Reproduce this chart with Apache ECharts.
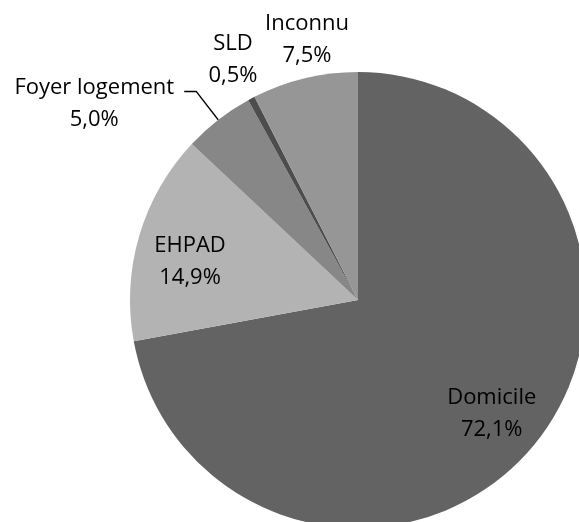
<!DOCTYPE html>
<html>
<head>
<meta charset="utf-8">
<script src="https://cdn.jsdelivr.net/npm/echarts@6/dist/echarts.min.js"></script>
<style>
  html, body { margin: 0; padding: 0; background: #fff; }
  #main { width: 579px; height: 522px; }
</style>
</head>
<body>
<div id="main"></div>
<script>
// 数据
var categories = ['Domicile', 'EHPAD', 'Foyer logement', 'SLD', 'Inconnu'];
var shares = [72.1, 14.9, 5.0, 0.5, 7.5];
var sliceColors = ['#636363', '#b3b3b3', '#878787', '#4d4d4d', '#969696'];

(function () {
  var chartDom = document.getElementById('main');
  var myChart = echarts.init(chartDom);
  var cx = 358, cy = 300, R = 228;
  // 标签: 沿扇区中心角方向的半径倍数, null = 引导线标签
  var labelRadius = [0.77, 0.755, null, 1.187, 1.162];
  var labelShift = [0.6, -3.7, 0, 0.4, 2.4];

  var total = 0;
  shares.forEach(function (v) { total += v; });
  var mids = [];
  var acc = 0;
  for (var i = 0; i < shares.length; i++) {
    mids.push((acc + shares[i] / 2) / total * 360);
    acc += shares[i];
  }
  function polar(a, r) {
    var rad = a * Math.PI / 180;
    return [cx + r * Math.sin(rad), cy - r * Math.cos(rad)];
  }

  var data = categories.map(function (name, i) {
    return {
      name: name,
      value: shares[i],
      itemStyle: { color: sliceColors[i] },
      labelLine: { show: labelRadius[i] == null }
    };
  });

  var option = {
    animation: false,
    series: [
      {
        type: 'pie',
        center: [cx, cy],
        radius: R,
        startAngle: 90,
        clockwise: true,
        avoidLabelOverlap: false,
        silent: true,
        data: data,
        label: {
          show: true,
          position: 'outside',
          color: '#000',
          fontFamily: 'Open Sans',
          fontSize: 22,
          lineHeight: 32,
          formatter: function (p) {
            return p.name + '\n' + p.value.toFixed(1).replace('.', ',') + '%';
          }
        },
        labelLine: {
          lineStyle: { color: '#000', width: 1.5 }
        },
        labelLayout: function (params) {
          var i = params.dataIndex;
          if (labelRadius[i] == null) {
            var p1 = polar(mids[i], R);
            var p2 = polar(mids[i], R + 36);
            var p3 = [p2[0] - 12, p2[1]];
            return {
              x: p3[0] - 10 - params.labelRect.width / 2,
              y: p3[1] + 12,
              align: 'center',
              verticalAlign: 'middle',
              labelLinePoints: [p1, p2, p3]
            };
          }
          var p = polar(mids[i] + labelShift[i], R * labelRadius[i]);
          return { x: p[0], y: p[1], align: 'center', verticalAlign: 'middle' };
        }
      }
    ]
  };

  option && myChart.setOption(option);
})();
</script>
</body>
</html>
